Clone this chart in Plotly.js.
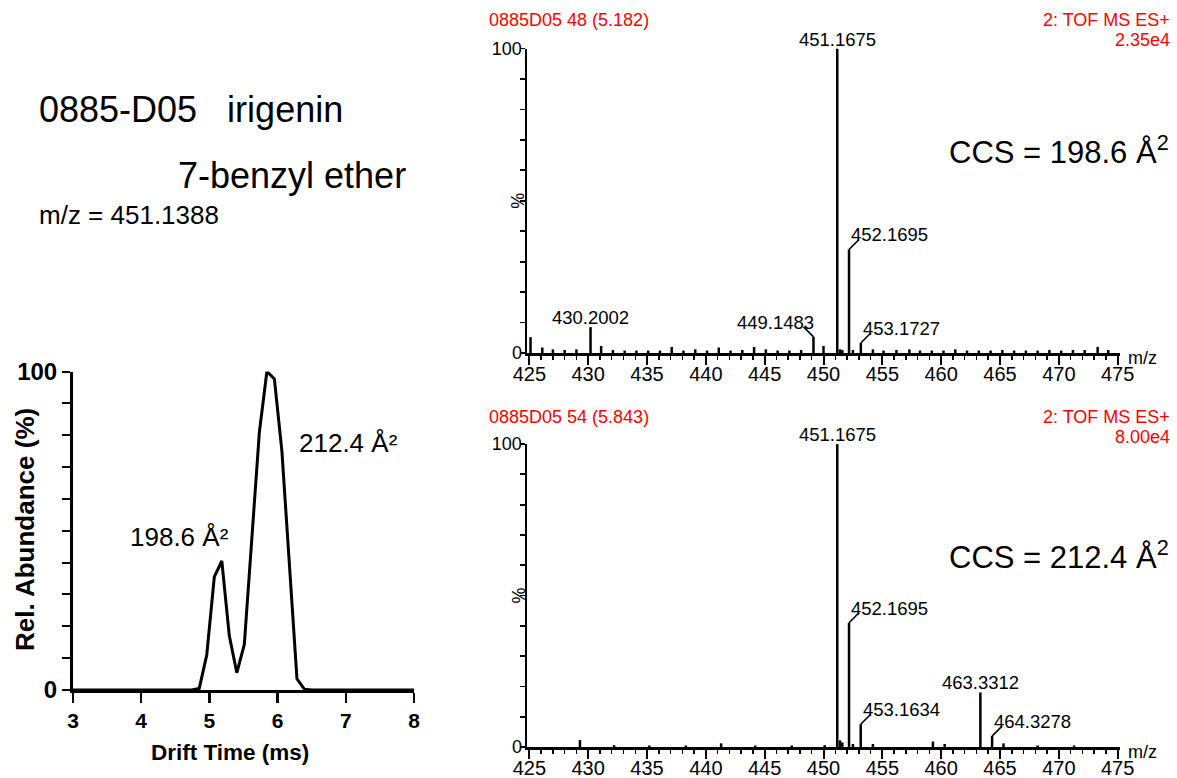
<!DOCTYPE html>
<html>
<head>
<meta charset="utf-8">
<script src="https://cdn.plot.ly/plotly-3.0.1.min.js"></script>
<style>
  html, body { margin: 0; padding: 0; background: #fff; }
  #chart { width: 1177px; height: 778px; }
</style>
</head>
<body>
<div id="chart"></div>
<script>
// ---- Arrival-time distribution (m/z 451.1388) ----
const driftTime    = [3.0, 4.741, 4.851, 4.961, 5.072, 5.182, 5.292, 5.402, 5.512, 5.623, 5.733, 5.843, 5.953, 6.063, 6.174, 6.284, 6.394, 6.504, 8.0];
const relAbundance = [0,   0,     0.5,   11,    35.5,  40.5,  17,    5.4,   14.3,  48,    81,    100,   97.7,  75,    40,    3.5,   0.2,   0,     0];
const driftTicks   = [3, 4, 5, 6, 7, 8];

// ---- Spectrum headers ----
const sampleName   = '0885D05';
const compoundId   = '0885-D05';
const compoundName = 'irigenin';
const compoundSub  = '7-benzyl ether';
const precursorMz  = 451.1388;
const scanNumbers  = [48, 54];
const scanDrift    = [5.182, 5.843];
const scanMaxInt   = ['2.35e4', '8.00e4'];
const ccsValues    = [198.6, 212.4];
const instrument   = '2: TOF MS ES+';

// ---- Spectrum at scan 48 ----
const topMz  = [425.1, 426.1, 427.0, 428.0, 429.0, 430.2002, 431.1, 432.1, 433.1, 434.1, 435.1, 436.1, 437.1, 438.1, 439.1, 440.1, 441.1, 442.1, 443.1, 444.1, 445.1, 446.1, 447.1, 448.1, 449.1483, 450.0, 451.1675, 451.4, 451.6, 452.1695, 452.5, 453.1727, 454.2, 455.1, 456.2, 457.3, 458.2, 459.2, 460.2, 461.2, 462.2, 463.2, 464.2, 465.2, 466.2, 467.2, 468.2, 469.2, 470.2, 471.2, 472.2, 473.3, 474.2];
const topPct = [5.2, 1.8, 1.2, 1.0, 1.2, 8.5, 2.3, 1.0, 0.8, 0.8, 0.8, 0.8, 2.0, 0.8, 1.2, 0.8, 1.8, 0.8, 1.0, 2.0, 1.2, 0.8, 0.8, 1.0, 5.3, 2.3, 100, 1.2, 1.0, 34, 1.0, 3.3, 1.2, 0.8, 1.0, 1.2, 0.8, 0.8, 0.8, 1.2, 0.8, 0.8, 0.8, 1.0, 0.8, 0.8, 0.8, 1.0, 0.8, 1.0, 1.0, 2.0, 1.0];
const topLabelled = [430.2002, 449.1483, 451.1675, 452.1695, 453.1727];

// ---- Spectrum at scan 54 ----
const botMz  = [429.3, 432.2, 435.2, 438.3, 441.3, 444.2, 447.3, 450.1, 451.1675, 451.4, 451.6, 452.1695, 452.5, 453.1634, 454.2, 459.3, 460.3, 463.3312, 464.3278, 465.3, 468.2, 471.3];
const botPct = [2.3, 0.6, 0.5, 0.5, 1.2, 0.5, 0.5, 0.6, 100, 2.2, 1.5, 41, 1.0, 7.5, 1.0, 1.8, 1.0, 18, 3.6, 1.2, 0.5, 0.5];
const botLabelled = [451.1675, 452.1695, 453.1634, 463.3312, 464.3278];

const mzTicks   = [425, 430, 435, 440, 445, 450, 455, 460, 465, 470, 475];
const pctTicks  = [0, 10, 20, 30, 40, 50, 60, 70, 80, 90, 100];

// ---------------------------------------------------------------
const W = 1177, H = 778;
const px = v => v / W;
const py = v => 1 - v / H;
const FONT = 'Arial, "Liberation Sans", Helvetica, sans-serif';

// spectrum frame in page pixels
const SPEC_LEFT = 527, SPEC_RIGHT = 1120, MZ_RANGE = [424.8, 475.2];
const mzPerPx = (MZ_RANGE[1] - MZ_RANGE[0]) / (SPEC_RIGHT - SPEC_LEFT);

// leader direction of each peak label: 'up' = straight above, 'right'/'left' = kinked leader
const labelSide = {
  430.2002: 'up', 449.1483: 'left', 451.1675: 'up', 452.1695: 'right', 453.1727: 'right',
  453.1634: 'right', 463.3312: 'up', 464.3278: 'right'
};
const LEADER_PX = 10;

function sticks(mz, pct) {
  const x = [], y = [];
  mz.forEach((m, i) => { x.push(m, m, null); y.push(0, pct[i], null); });
  return { x, y };
}

const panels = [
  { xa: 'x2', ya: 'y2', top: 48.5, bottom: 353, head: 20, ccsY: 150, mz: topMz, pct: topPct, labelled: topLabelled },
  { xa: 'x3', ya: 'y3', top: 444, bottom: 747, head: 417, ccsY: 555, mz: botMz, pct: botPct, labelled: botLabelled }
];

// short diagonal leaders from peak apex to its label
function leaders(p) {
  const pctPerPx = 100 / (p.bottom - p.top);
  const x = [], y = [];
  p.labelled.forEach(m => {
    const side = labelSide[m] || 'up';
    if (side === 'up') return;
    const h = p.pct[p.mz.indexOf(m)];
    const dir = side === 'right' ? 1 : -1;
    x.push(m, m + dir * LEADER_PX * mzPerPx, null);
    y.push(h, h + LEADER_PX * pctPerPx, null);
  });
  return { x, y };
}

const topSticks = sticks(topMz, topPct);
const botSticks = sticks(botMz, botPct);
const topLead = leaders(panels[0]);
const botLead = leaders(panels[1]);

const traces = [
  { x: driftTime, y: relAbundance, xaxis: 'x', yaxis: 'y', type: 'scatter', mode: 'lines',
    line: { color: '#000', width: 3 }, hoverinfo: 'skip' },
  { x: topSticks.x, y: topSticks.y, xaxis: 'x2', yaxis: 'y2', type: 'scatter', mode: 'lines',
    line: { color: '#000', width: 2.5 }, connectgaps: false, hoverinfo: 'skip' },
  { x: topLead.x, y: topLead.y, xaxis: 'x2', yaxis: 'y2', type: 'scatter', mode: 'lines',
    line: { color: '#000', width: 1.6 }, connectgaps: false, hoverinfo: 'skip' },
  { x: botSticks.x, y: botSticks.y, xaxis: 'x3', yaxis: 'y3', type: 'scatter', mode: 'lines',
    line: { color: '#000', width: 2.5 }, connectgaps: false, hoverinfo: 'skip' },
  { x: botLead.x, y: botLead.y, xaxis: 'x3', yaxis: 'y3', type: 'scatter', mode: 'lines',
    line: { color: '#000', width: 1.6 }, connectgaps: false, hoverinfo: 'skip' }
];

function specXAxis(anchor) {
  return {
    anchor: anchor, domain: [px(SPEC_LEFT), px(SPEC_RIGHT)], range: MZ_RANGE,
    showline: true, linecolor: '#000', linewidth: 2.5,
    showgrid: false, zeroline: false, fixedrange: true,
    tickmode: 'array', tickvals: mzTicks, ticktext: mzTicks.map(String),
    ticks: 'outside', ticklen: 9, tickwidth: 2, tickcolor: '#000',
    ticklabelstandoff: -8,
    minor: { dtick: 1, tick0: 425, ticks: 'outside', ticklen: 4, tickwidth: 1.5, tickcolor: '#000', showgrid: false },
    tickfont: { family: FONT, size: 20, color: '#000' }
  };
}
function specYAxis(anchor, top, bottom) {
  return {
    anchor: anchor, domain: [py(bottom), py(top)], range: [0, 100],
    showline: true, linecolor: '#000', linewidth: 2.5,
    showgrid: false, zeroline: false, fixedrange: true,
    tickmode: 'array', tickvals: pctTicks,
    ticktext: pctTicks.map(v => (v === 0 || v === 100) ? String(v) : ''),
    ticks: 'outside', ticklen: 5, tickwidth: 1.8, tickcolor: '#000',
    ticklabelstandoff: -6,
    tickfont: { family: FONT, size: 18, color: '#000' }
  };
}

const annotations = [];

// title block
annotations.push(
  { xref: 'paper', yref: 'paper', x: px(37), y: py(110), xanchor: 'left', yanchor: 'middle', showarrow: false,
    text: compoundId + '\u00a0\u00a0\u00a0' + compoundName, font: { family: FONT, size: 36, color: '#000' } },
  { xref: 'paper', yref: 'paper', x: px(176), y: py(175), xanchor: 'left', yanchor: 'middle', showarrow: false,
    text: compoundSub, font: { family: FONT, size: 36, color: '#000' } },
  { xref: 'paper', yref: 'paper', x: px(37), y: py(215), xanchor: 'left', yanchor: 'middle', showarrow: false,
    text: 'm/z = ' + precursorMz.toFixed(4), font: { family: FONT, size: 26, color: '#000' } }
);

// drift-time panel labels
annotations.push(
  { xref: 'x', yref: 'y', x: 4.56, y: 48, xanchor: 'center', yanchor: 'middle', showarrow: false,
    text: ccsValues[0].toFixed(1) + ' Å²', font: { family: FONT, size: 26, color: '#000' } },
  { xref: 'x', yref: 'y', x: 7.04, y: 77.4, xanchor: 'center', yanchor: 'middle', showarrow: false,
    text: ccsValues[1].toFixed(1) + ' Å²', font: { family: FONT, size: 26, color: '#000' } },
  { xref: 'paper', yref: 'paper', x: px(25), y: py(530), xanchor: 'center', yanchor: 'middle', showarrow: false,
    textangle: -90, text: 'Rel. Abundance (%)', font: { family: FONT, size: 26, color: '#000', weight: 'bold' } },
  { xref: 'paper', yref: 'paper', x: px(230), y: py(752), xanchor: 'center', yanchor: 'middle', showarrow: false,
    text: 'Drift Time (ms)', font: { family: FONT, size: 22.5, color: '#000', weight: 'bold' } }
);

// per-spectrum decorations
const red = '#ff0000';
panels.forEach((p, k) => {
  annotations.push(
    { xref: 'paper', yref: 'paper', x: px(487), y: py(p.head), xanchor: 'left', yanchor: 'middle', showarrow: false,
      text: sampleName + ' ' + scanNumbers[k] + ' (' + scanDrift[k].toFixed(3) + ')', font: { family: FONT, size: 18, color: red } },
    { xref: 'paper', yref: 'paper', x: px(1172), y: py(p.head), xanchor: 'right', yanchor: 'middle', showarrow: false,
      text: instrument, font: { family: FONT, size: 18, color: red } },
    { xref: 'paper', yref: 'paper', x: px(1172), y: py(p.head + 20), xanchor: 'right', yanchor: 'middle', showarrow: false,
      text: scanMaxInt[k], font: { family: FONT, size: 18, color: red } },
    { xref: 'paper', yref: 'paper', x: px(947), y: py(p.ccsY), xanchor: 'left', yanchor: 'middle', showarrow: false,
      text: 'CCS = ' + ccsValues[k].toFixed(1) + ' Å<sup>2</sup>', font: { family: FONT, size: 31, color: '#000' } },
    { xref: p.xa + ' domain', yref: p.ya, x: 1, y: 0, xanchor: 'left', yanchor: 'middle', xshift: 6, yshift: -5, showarrow: false,
      text: 'm/z', font: { family: FONT, size: 18, color: '#000' } },
    { xref: p.xa + ' domain', yref: p.ya, x: 0, y: 50, xanchor: 'right', yanchor: 'middle', xshift: 3, showarrow: false,
      textangle: -90, text: '%', font: { family: FONT, size: 18, color: '#000' } }
  );
  p.labelled.forEach(m => {
    const h = p.pct[p.mz.indexOf(m)];
    const side = labelSide[m] || 'up';
    const txt = m.toFixed(4);
    const f = { family: FONT, size: 18.5, color: '#000' };
    if (side === 'up') {
      annotations.push({ xref: p.xa, yref: p.ya, x: m, y: h, xanchor: 'center', yanchor: 'bottom',
        yshift: -3, showarrow: false, text: txt, font: f });
    } else {
      annotations.push({ xref: p.xa, yref: p.ya, x: m, y: h, xanchor: side === 'right' ? 'left' : 'right',
        yanchor: 'bottom', xshift: side === 'right' ? 0 : 3, yshift: 2, showarrow: false, text: txt, font: f });
    }
  });
});

const layout = {
  width: W, height: H,
  margin: { l: 0, r: 0, t: 0, b: 0 },
  paper_bgcolor: '#fff', plot_bgcolor: 'rgba(0,0,0,0)',
  showlegend: false,
  font: { family: FONT, color: '#000' },
  xaxis: {
    anchor: 'y', domain: [px(73), px(414)], range: [3, 8],
    showline: true, linecolor: '#000', linewidth: 3,
    showgrid: false, zeroline: false, fixedrange: true,
    tickmode: 'array', tickvals: driftTicks, ticktext: driftTicks.map(String),
    ticks: 'outside', ticklen: 10, tickwidth: 2.5, tickcolor: '#000',
    tickfont: { family: FONT, size: 21, color: '#000', weight: 'bold' }
  },
  yaxis: {
    anchor: 'x', domain: [py(690), py(371.5)], range: [0, 100],
    showline: true, linecolor: '#000', linewidth: 3,
    showgrid: false, zeroline: false, fixedrange: true,
    tickmode: 'array', tickvals: pctTicks,
    ticktext: pctTicks.map(v => (v === 0 || v === 100) ? String(v) : ''),
    ticks: 'outside', ticklen: 8, tickwidth: 2, tickcolor: '#000',
    tickfont: { family: FONT, size: 24, color: '#000', weight: 'bold' }
  },
  xaxis2: specXAxis('y2'),
  yaxis2: specYAxis('x2', 48.5, 353),
  xaxis3: specXAxis('y3'),
  yaxis3: specYAxis('x3', 444, 747),
  annotations: annotations
};

Plotly.newPlot('chart', traces, layout, { displayModeBar: false, staticPlot: true });
</script>
</body>
</html>
